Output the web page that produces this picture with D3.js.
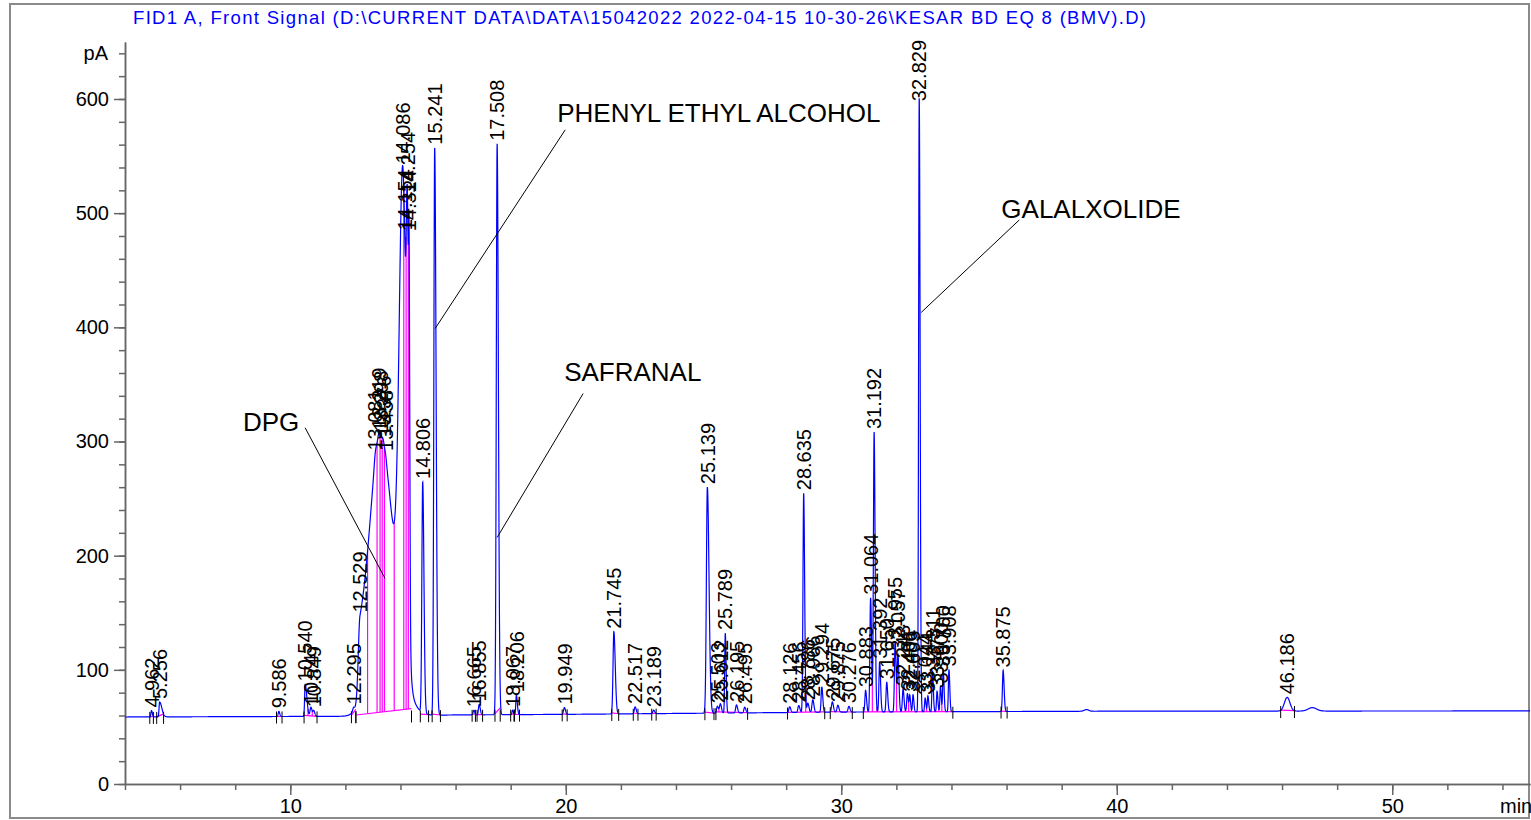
<!DOCTYPE html>
<html>
<head>
<meta charset="utf-8">
<style>
    body {
        margin: 0;
        background-color: #ffffff;
    }

    svg {
        display: block;
        font-family: "Liberation Sans", Arial, sans-serif;
    }
</style>
</head>
<body>
<div id="chart"></div>

<script src="https://d3js.org/d3.v7.min.js"></script>
<script>
    var title = "FID1 A, Front Signal (D:\\CURRENT DATA\\DATA\\15042022 2022-04-15 10-30-26\\KESAR BD EQ 8 (BMV).D)";

    // peak table: retention time (min), height above baseline (pA),
    // leading / trailing width (min)
    var peakRT = [4.962, 5.256, 9.586, 10.540, 10.747, 10.849, 12.295, 12.529, 13.081, 13.219,
        13.298, 13.376, 13.458, 14.086, 14.154, 14.254, 14.314, 14.806, 15.241, 16.665,
        16.855, 17.508, 18.067, 18.206, 19.949, 21.745, 22.517, 23.189, 25.139, 25.503,
        25.612, 25.789, 26.195, 26.495, 28.126, 28.456, 28.635, 28.786, 28.966, 29.294,
        29.675, 29.875, 30.276, 30.883, 31.064, 31.192, 31.392, 31.650, 31.955, 32.057,
        32.243, 32.401, 32.486, 32.605, 32.829, 33.044, 33.144, 33.311, 33.477, 33.600,
        33.700, 33.908, 35.875, 46.186];
    var peakH = [5.5, 13, 4.5, 28, 8, 5, 3, 65, 6, 3,
        226, 3, 3, 415, 5, 260, 240, 202, 497, 4,
        9, 500, 4, 17, 6, 72, 6, 3, 198, 6,
        8, 70, 7, 5, 5, 6, 192, 8, 11, 22,
        9, 6, 5, 19, 100, 245, 44, 26, 62, 50,
        20, 16, 14, 15, 538, 12, 14, 36, 18, 22,
        37, 37, 36, 12];
    var peakWL = [.02, .02, .025, .02, .03, .03, .03, .06, .04, .03,
        .36, .03, .03, .13, .02, .04, .02, .03, .03, .03,
        .025, .03, .02, .02, .03, .03, .03, .03, .035, .03,
        .03, .02, .03, .03, .03, .03, .025, .03, .03, .025,
        .03, .03, .03, .025, .025, .025, .025, .025, .025, .025,
        .025, .025, .02, .02, .022, .02, .02, .02, .02, .02,
        .02, .02, .025, .1];
    var peakWR = [.03, .08, .03, .06, .04, .04, .03, .5, .04, .03,
        .5, .03, .03, .12, .02, .04, .025, .045, .05, .03,
        .04, .045, .03, .035, .04, .05, .04, .04, .06, .04,
        .04, .03, .04, .04, .04, .04, .035, .04, .04, .035,
        .04, .04, .04, .035, .035, .035, .035, .035, .035, .035,
        .035, .035, .03, .03, .032, .03, .03, .03, .03, .03,
        .03, .03, .035, .1];

    // small bumps without a label
    var bumpRT = [38.9, 47.1];
    var bumpH = [1.5, 3];
    var bumpW = [.08, .15];

    // baseline drift
    var baseT = [4, 12, 16, 20, 25, 30, 40, 55];
    var baseV = [58.7, 59.3, 60.5, 61, 62, 63, 63.8, 64];

    // integration windows (start, end)
    var groupStart = [4.90, 5.15, 9.50, 10.50, 12.22, 12.38, 14.72, 15.15, 16.60, 16.78,
        17.43, 18.00, 18.14, 19.87, 21.67, 22.45, 23.12, 25.05, 25.45, 28.05,
        29.60, 30.80, 35.80, 45.95];
    var groupEnd = [5.03, 5.40, 9.70, 10.97, 12.38, 14.40, 15.02, 15.45, 16.72, 16.98,
        17.62, 18.12, 18.32, 20.05, 21.92, 22.62, 23.28, 25.38, 26.60, 29.40,
        30.40, 34.05, 36.02, 46.45];

    // compound names with their label position and leader line (min, pA)
    var annoText = ["DPG", "PHENYL ETHYL ALCOHOL", "SAFRANAL", "GALALXOLIDE"];
    var annoX = [8.28, 19.69, 19.94, 35.81];
    var annoY = [309, 580, 353, 496];
    var annoX1 = [10.54, 19.98, 20.63, 36.46];
    var annoY1 = [312, 573, 342, 494];
    var annoX2 = [13.44, 15.26, 17.51, 32.90];
    var annoY2 = [180, 399, 216, 413];

    var xMajor = [10, 20, 30, 40, 50];
    var xMinor = d3.range(4, 55, 2);
    var yMajor = [0, 100, 200, 300, 400, 500, 600];
    var yMinor = d3.range(0, 641, 20);

    var width = 1531, height = 820;

    var svg = d3.select("#chart").append("svg")
        .attr("width", width)
        .attr("height", height);

    var x = d3.scaleLinear().domain([4, 55]).range([125, 1530]);
    var y = d3.scaleLinear().domain([0, 650]).range([784, 41.9]);
    var base = d3.scaleLinear().domain(baseT).range(baseV).clamp(true);

    function bigauss(t, rt, h, wl, wr) {
        var d = (t - rt) / (t < rt ? wl : wr);
        return h * Math.exp(-0.5 * d * d);
    }

    function signal(t) {
        var v = base(t);
        for (var i = 0; i < peakRT.length; i++) {
            if (Math.abs(t - peakRT[i]) < 8 * Math.max(peakWL[i], peakWR[i]))
                v += bigauss(t, peakRT[i], peakH[i], peakWL[i], peakWR[i]);
        }
        for (var j = 0; j < bumpRT.length; j++) {
            v += bigauss(t, bumpRT[j], bumpH[j], bumpW[j], bumpW[j]);
        }
        return v;
    }

    // frame
    svg.append("rect")
        .attr("x", 10).attr("y", 4)
        .attr("width", 1519).attr("height", 814)
        .attr("fill", "none")
        .attr("stroke", "#8a8a8a")
        .attr("stroke-width", 2);

    svg.append("text")
        .attr("x", 133).attr("y", 24)
        .attr("fill", "#0000ff")
        .attr("textLength", 1013)
        .attr("lengthAdjust", "spacing")
        .style("font-size", "18.5px")
        .text(title);

    // axes
    var axisColor = "#666666";

    var yMin = svg.append("g").attr("transform", "translate(125,0)")
        .call(d3.axisLeft(y).tickValues(yMinor).tickSize(6).tickSizeOuter(0).tickFormat(""));
    var yMaj = svg.append("g").attr("transform", "translate(125,0)")
        .call(d3.axisLeft(y).tickValues(yMajor).tickSize(11).tickSizeOuter(0).tickPadding(5));
    var xMin = svg.append("g").attr("transform", "translate(0,784)")
        .call(d3.axisBottom(x).tickValues(xMinor).tickSize(6).tickSizeOuter(0).tickFormat(""));
    var xMaj = svg.append("g").attr("transform", "translate(0,784)")
        .call(d3.axisBottom(x).tickValues(xMajor).tickSize(11).tickSizeOuter(0).tickPadding(4));

    [yMin, yMaj, xMin, xMaj].forEach(function (g) {
        g.selectAll("path, line").attr("stroke", axisColor).attr("stroke-width", 1.5);
        g.selectAll("text").attr("fill", "#000").style("font-size", "20px")
            .style("font-family", "'Liberation Sans', Arial, sans-serif");
    });

    svg.append("text")
        .attr("x", 108).attr("y", y(640))
        .attr("dy", "0.35em")
        .attr("text-anchor", "end")
        .style("font-size", "20px")
        .text("pA");

    svg.append("text")
        .attr("x", 1500).attr("y", 784 + 15)
        .attr("dy", "0.71em")
        .style("font-size", "20px")
        .text("min");

    // integration baselines and drop lines
    var magenta = "#ff00ff";
    var integ = svg.append("g").attr("stroke", magenta).attr("stroke-width", 1.2).attr("fill", "none");

    groupStart.forEach(function (s, gi) {
        var e = groupEnd[gi];
        var ys = Math.min(signal(s), base(s) + 1);
        var ye = Math.min(signal(e), base(e) + 6);
        integ.append("line")
            .attr("x1", x(s)).attr("y1", y(ys))
            .attr("x2", x(e)).attr("y2", y(ye));

        var inside = peakRT.filter(function (rt) { return rt >= s && rt <= e; });
        for (var k = 0; k < inside.length - 1; k++) {
            var m = (inside[k] + inside[k + 1]) / 2;
            var yb = ys + (ye - ys) * (m - s) / (e - s);
            integ.append("line")
                .attr("x1", x(m)).attr("y1", y(yb))
                .attr("x2", x(m)).attr("y2", y(signal(m)));
        }
    });

    // the trace
    var times = d3.range(4, 55.0001, 0.004);
    var line = d3.line()
        .x(function (t) { return x(t); })
        .y(function (t) { return y(signal(t)); });

    svg.append("path")
        .datum(times)
        .attr("d", line)
        .attr("fill", "none")
        .attr("stroke", "#0000ff")
        .attr("stroke-width", 1.2);

    // event ticks at integration start / end
    var tickT = groupStart.concat(groupEnd);
    svg.append("g").selectAll("line")
        .data(tickT)
        .enter()
        .append("line")
        .attr("x1", function (t) { return x(t); })
        .attr("x2", function (t) { return x(t); })
        .attr("y1", function (t) { return y(base(t)) - 5; })
        .attr("y2", function (t) { return y(base(t)) + 7; })
        .attr("stroke", "#000")
        .attr("stroke-width", 1);

    // retention time labels
    var labels = svg.append("g").selectAll("text")
        .data(peakRT)
        .enter()
        .append("text")
        .style("font-size", "20px")
        .attr("fill", "#000")
        .attr("dy", "0.36em")
        .text(function (d) { return d.toFixed(3); });

    labels.each(function (d) {
        var len = this.getComputedTextLength();
        var bottom = y(signal(d)) - 3;
        if (bottom - len < 40) bottom = 40 + len;
        d3.select(this).attr("transform", "translate(" + x(d) + "," + bottom + ") rotate(-90)");
    });

    // compound annotations
    var anno = svg.append("g");
    annoText.forEach(function (txt, i) {
        anno.append("line")
            .attr("x1", x(annoX1[i])).attr("y1", y(annoY1[i]))
            .attr("x2", x(annoX2[i])).attr("y2", y(annoY2[i]))
            .attr("stroke", "#000")
            .attr("stroke-width", 1);
        anno.append("text")
            .attr("x", x(annoX[i])).attr("y", y(annoY[i]))
            .style("font-size", "26px")
            .attr("fill", "#000")
            .text(txt);
    });
</script>
</body>
</html>
